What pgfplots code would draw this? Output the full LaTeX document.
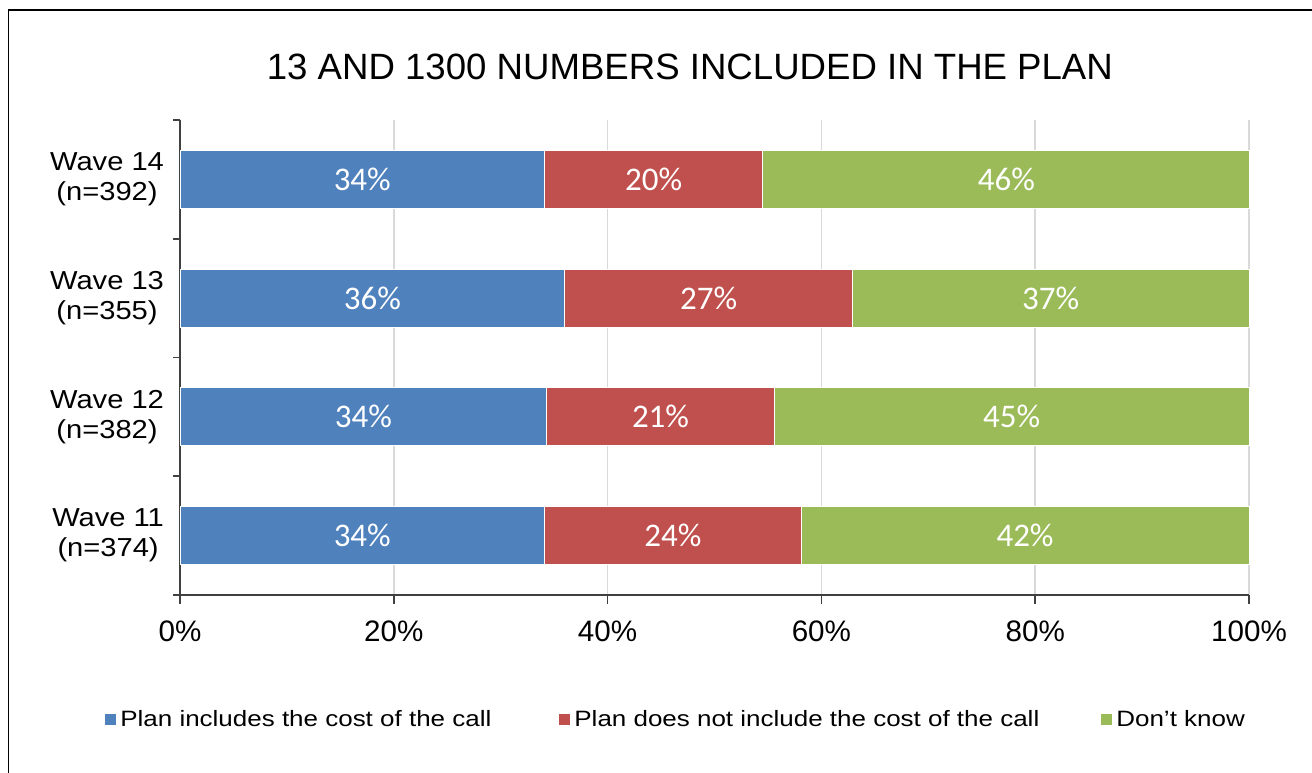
\documentclass[border=0pt]{standalone}
\usepackage{pgfplots}
\pgfplotsset{compat=1.18}
\usepackage{fontspec}
\setmainfont{Liberation Sans}
\newfontfamily\carlito{Carlito}
\newfontfamily\legfont{Liberation Sans}[FakeStretch=1.17]
\newfontfamily\ylabfont{Liberation Sans}[FakeStretch=1.12]
\definecolor{cblue}{HTML}{4F81BD}
\definecolor{cred}{HTML}{C0504D}
\definecolor{cgreen}{HTML}{9BBB59}
\definecolor{cgrid}{HTML}{D9D9D9}
\pgfplotsset{sq/.style={legend image code/.code={\path[##1,draw=none] (0pt,-2.75pt) rectangle (5.5pt,2.75pt);}}}
\begin{document}
\begin{tikzpicture}
\path[use as bounding box] (0,0) rectangle (656pt,386pt);
\draw[black, line width=0.6pt] (4.25pt,-1pt) -- (4.25pt,381pt) -- (657pt,381pt);
\begin{axis}[
  at={(90pt,88.5pt)}, anchor=south west,
  scale only axis, width=534.5pt, height=237.5pt,
  xbar stacked, bar width=29pt,
  xmin=0, xmax=100, ymin=-0.5, ymax=3.5,
  clip=false,
  axis x line*=bottom, axis y line*=left,
  axis line style={black!75, line width=0.8pt},
  xtick={0,20,40,60,80,100},
  xticklabels={0\%,20\%,40\%,60\%,80\%,100\%},
  xmajorgrids, major grid style={cgrid, line width=0.8pt},
  ytick={0,1,2,3},
  yticklabels={{Wave 11\\(n=374)},{Wave 12\\(n=382)},{Wave 13\\(n=355)},{Wave 14\\(n=392)}},
  yticklabel style={align=center, font=\ylabfont\fontsize{13}{15}\selectfont},
  xticklabel style={font=\fontsize{14.8}{16}\selectfont, yshift=-5pt},
  minor ytick={-0.5,0.5,1.5,2.5,3.5},
  tick align=outside,
  major tick length=4.5pt, minor tick length=3.5pt,
  every major y tick/.append style={draw=none},
  every minor y tick/.append style={draw=black!75, line width=0.8pt},
  every major x tick/.append style={draw=black!75, line width=0.8pt},
  legend columns=3,
  legend style={at={(-0.0702,-0.263)}, anchor=west, draw=none, fill=none,
    inner sep=0pt, font=\legfont\fontsize{11.1}{12}\selectfont},
]
\addplot[fill=cblue, draw=white, line width=0.5pt, sq] coordinates {(34.1,0) (34.3,1) (36.0,2) (34.1,3)};
\addplot[fill=cred, draw=white, line width=0.5pt, sq] coordinates {(24.0,0) (21.3,1) (26.9,2) (20.4,3)};
\addplot[fill=cgreen, draw=white, line width=0.5pt, sq] coordinates {(41.9,0) (44.4,1) (37.1,2) (45.5,3)};
\addlegendentry{Plan includes the cost of the call\hspace*{32pt}}
\addlegendentry{Plan does not include the cost of the call\hspace*{29pt}}
\addlegendentry{Don’t know}
\node[font=\fontsize{18.3}{20}\selectfont, anchor=base] at (rel axis cs:0.477,1) [yshift=20pt] {13 AND 1300 NUMBERS INCLUDED IN THE PLAN};
\end{axis}
\begin{axis}[
  at={(90pt,88.5pt)}, anchor=south west,
  scale only axis, width=534.5pt, height=237.5pt,
  xmin=0, xmax=100, ymin=-0.5, ymax=3.5, hide axis, clip=false,
]
\addplot[only marks, mark=none, nodes near coords={\pgfmathprintnumber[assume math mode=true]{\pgfplotspointmeta}\%},
  point meta=explicit,
  nodes near coords style={white, anchor=center, font=\carlito\fontsize{16.5}{18}\selectfont}]
  table[meta=v] {
x y v
17.05 0 34
46.1 0 24
79.05 0 42
17.15 1 34
44.95 1 21
77.8 1 45
18 2 36
49.45 2 27
81.45 2 37
17.05 3 34
44.3 3 20
77.3 3 46
};
\end{axis}
\end{tikzpicture}
\end{document}
